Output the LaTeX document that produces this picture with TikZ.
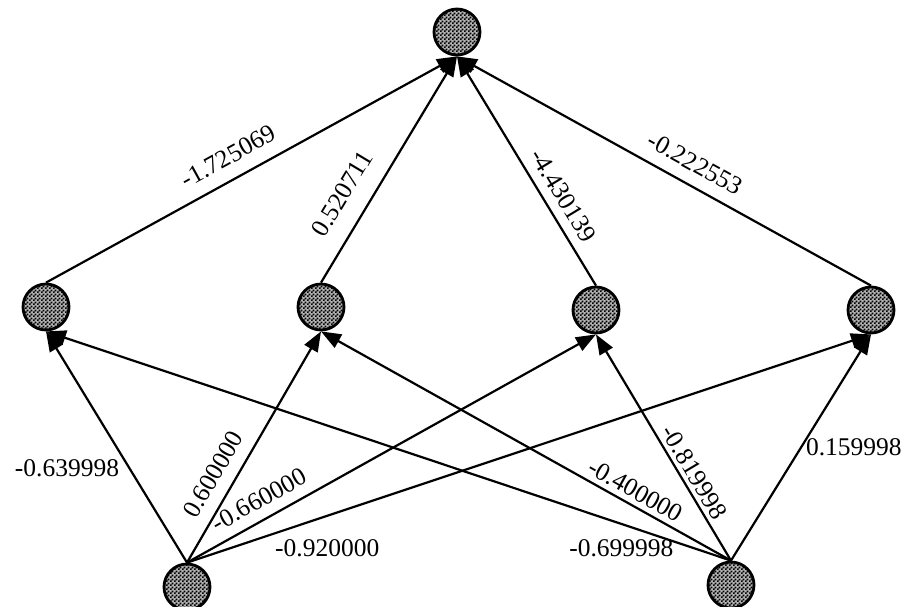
\documentclass[tikz,border=0pt]{standalone}
\usepackage{fontspec}
\setmainfont{Liberation Serif}
\usetikzlibrary{arrows.meta,patterns}
\pgfdeclarepatternformonly{finecheck}{\pgfpointorigin}{\pgfqpoint{3.6pt}{3.6pt}}{\pgfqpoint{3.6pt}{3.6pt}}{%
  \pgfpathrectangle{\pgfpointorigin}{\pgfqpoint{1.8pt}{1.8pt}}%
  \pgfpathrectangle{\pgfqpoint{1.8pt}{1.8pt}}{\pgfqpoint{1.8pt}{1.8pt}}%
  \pgfusepath{fill}}
\begin{document}
\begin{tikzpicture}[x=1pt,y=-1pt,
  neuron/.style={circle, draw=black, line width=2.8pt, minimum size=46pt, inner sep=0pt,
    preaction={fill=gray!60}, pattern=finecheck, pattern color=black},
  edge/.style={line width=2.2pt, -{Triangle[length=20pt,width=15pt]}},
  lab/.style={font=\fontsize{25.5}{30}\selectfont, inner sep=0pt},
]
\useasboundingbox (0,0) rectangle (903,606);
\node[neuron] (top) at (457,32) {};
\node[neuron] (h1) at (46,307) {};
\node[neuron] (h2) at (321,307) {};
\node[neuron] (h3) at (596,310) {};
\node[neuron] (h4) at (871,310) {};
\node[neuron] (bl) at (187,587) {};
\node[neuron] (br) at (731,585) {};

\draw[edge] (h1.north) -- node[lab,sloped,above=13pt,pos=0.47]{-1.725069} (top.south);
\draw[edge] (h2.north) -- node[lab,sloped,above=18pt,pos=0.33]{0.520711} (top.south);
\draw[edge] (h3.north) -- node[lab,sloped,above=9pt,pos=0.35]{-4.430139} (top.south);
\draw[edge] (h4.north) -- node[lab,sloped,above=12pt,pos=0.45]{-0.222553} (top.south);

\draw[edge] (bl.north) -- node[lab,pos=0.41,left=9pt]{-0.639998} (h1.south);
\draw[edge] (bl.north) -- node[lab,sloped,above=12pt,pos=0.335]{0.600000} (h2.south);
\draw[edge] (bl.north) -- node[lab,sloped,above=10pt,pos=0.2]{-0.660000} (h3.south);
\draw[edge] (bl.north) -- node[lab,pos=0.205,below=23pt]{-0.920000} (h4.south);
\draw[edge] (br.north) -- node[lab,pos=0.16,below=15pt]{-0.699998} (h1.south);
\draw[edge] (br.north) -- node[lab,sloped,above=5pt,pos=0.25]{-0.400000} (h2.south);
\draw[edge] (br.north) -- node[lab,sloped,above=4pt,pos=0.36]{-0.819998} (h3.south);
\draw[edge] (br.north) -- node[lab,pos=0.5,right=4pt]{0.159998} (h4.south);
\end{tikzpicture}
\end{document}
